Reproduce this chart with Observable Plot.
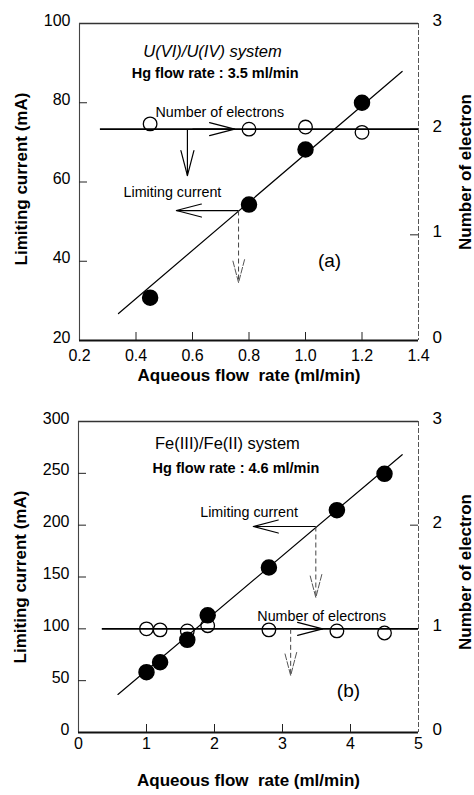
<!DOCTYPE html>
<html><head><meta charset="utf-8">
<script src="https://cdn.jsdelivr.net/npm/d3@7"></script>
<script src="https://cdn.jsdelivr.net/npm/@observablehq/plot@0.6"></script>
<style>
body{margin:0;background:#fff;}
#chart{width:474px;}
#chart svg{display:block;}
</style></head><body><div id="chart"></div>
<script>
// ---------- Panel (a): U(VI)/U(IV) system ----------
const flowA = [0.45, 0.8, 1.0, 1.2];
const currentA = [30.8, 54.3, 68.2, 80.0];
const electronsA = [2.05, 2.0, 2.02, 1.97];
const fitFlowA = [0.338, 1.342];
const fitCurrentA = [26.8, 87.9];
const electronLineA = {n: 2, from: 0.274, to: 1.4};
const xTicksA = [0.2, 0.4, 0.6, 0.8, 1.0, 1.2, 1.4];
const yTicksA = [20, 40, 60, 80, 100];
const titleA = "U(VI)/U(IV) system";
const hgA = "Hg flow rate : 3.5 ml/min";
const tagA = "(a)";

// ---------- Panel (b): Fe(III)/Fe(II) system ----------
const flowB = [1.0, 1.2, 1.6, 1.9, 2.8, 3.8, 4.5];
const currentB = [58.2, 67.8, 89.4, 113.0, 159.2, 214.5, 249.5];
const electronsB = [1.0, 0.99, 0.98, 1.03, 0.99, 0.98, 0.96];
const fitFlowB = [0.58, 4.76];
const fitCurrentB = [36.7, 268];
const electronLineB = {n: 1, from: 0.35, to: 5};
const xTicksB = [0, 1, 2, 3, 4, 5];
const yTicksB = [0, 50, 100, 150, 200, 250, 300];
const titleB = "Fe(III)/Fe(II) system";
const hgB = "Hg flow rate : 4.6 ml/min";
const tagB = "(b)";

// shared
const electronTicks = [0, 1, 2, 3];
const yLabel = "Limiting current (mA)";
const y2Label = "Number of electron";
const xLabel = "Aqueous flow  rate (ml/min)";
const lblElectrons = "Number of electrons";
const lblCurrent = "Limiting current";

// annotation anchors (data coordinates)
const notesA = {title: [0.671, 92.9], hg: [0.385, 87.4], electrons: [0.469, 77.5], current: [0.356, 57.3], tag: [1.085, 40.2]};
const notesB = {title: [2.19, 278.8], hg: [1.09, 254.7], electrons: [2.63, 111.9], current: [1.79, 212.2], tag: [3.97, 40.5]};
const arrowsA = [
  {x1: 0.60, x2: 0.749, y1: 2, y2: 2, axis: "n", dashed: false},
  {x1: 0.582, x2: 0.582, y1: 2, y2: 1.56, axis: "n", dashed: false},
  {x1: 0.763, x2: 0.543, y1: 52.8, y2: 52.8, axis: "i", dashed: false},
  {x1: 0.763, x2: 0.763, y1: 52.8, y2: 34.6, axis: "i", dashed: true}
];
const arrowsB = [
  {x1: 3.3, x2: 3.59, y1: 1, y2: 1, axis: "n", dashed: false},
  {x1: 3.49, x2: 2.57, y1: 198.7, y2: 198.7, axis: "i", dashed: false},
  {x1: 3.49, x2: 3.49, y1: 198.7, y2: 130.2, axis: "i", dashed: true},
  {x1: 3.12, x2: 3.12, y1: 1, y2: 0.55, axis: "n", dashed: true}
];

const FONT = "'Liberation Sans', Arial, Helvetica, sans-serif";

function headShape(hw) {
  return {draw(ctx, l) { ctx.moveTo(-hw, 0); ctx.lineTo(0, -l); ctx.lineTo(hw, 0); }};
}

function panel(o) {
  const W = 474;
  const toY = n => o.y0 + n * o.k;
  const pts = o.flow.map((x, i) => ({x, i: o.current[i], n: o.electrons[i]}));
  const fit = o.fitFlow.map((x, i) => ({x, y: o.fitCurrent[i]}));
  const innerW = W - o.ml - o.mr, innerH = o.h - o.mt - o.mb;
  const arrows = o.arrows.map(a => {
    const f = a.axis === "n" ? toY : (v => v);
    const y1 = f(a.y1), y2 = f(a.y2);
    const rot = a.x2 > a.x1 ? 90 : a.x2 < a.x1 ? -90 : y2 < y1 ? 180 : 0;
    return {x1: a.x1, x2: a.x2, y1, y2, rot, dashed: a.dashed};
  });
  const solid = arrows.filter(a => !a.dashed), dashed = arrows.filter(a => a.dashed);
  const N = o.notes;
  return Plot.plot({
    width: W, height: o.h,
    marginLeft: o.ml, marginRight: o.mr, marginTop: o.mt, marginBottom: o.mb,
    style: {fontFamily: FONT, fontSize: "15px", background: "white", color: "black", overflow: "visible"},
    x: {domain: o.xDomain},
    y: {domain: o.yDomain},
    marks: [
      // frame
      Plot.ruleY([o.yDomain[1]], {stroke: "#333", strokeWidth: 1.3}),
      Plot.ruleX([o.xDomain[0]], {stroke: "#444", strokeWidth: 1.1}),
      Plot.ruleX([o.xDomain[1]], {stroke: "#555", strokeWidth: 1, strokeDasharray: "5,2"}),
      Plot.ruleY([o.yDomain[0]], {stroke: "#111", strokeWidth: 1.8}),
      // inward ticks
      Plot.tickX(o.xTicks.slice(1, -1), {x: d => d, insetTop: innerH - 8, stroke: "#222"}),
      Plot.tickY(o.yTicks.slice(1, -1), {y: d => d, insetRight: innerW - 8, stroke: "#222"}),
      Plot.tickY(electronTicks.slice(1, -1), {y: d => toY(d), insetLeft: innerW - 8, stroke: "#222"}),
      // axes labels
      Plot.axisX({ticks: o.xTicks, tickFormat: o.xFormat, tickSize: 0, tickPadding: o.xPad, label: null, fontSize: 16}),
      Plot.axisY({anchor: "left", ticks: o.yTicks, tickSize: 0, tickPadding: 9, dy: -3, label: null, fontSize: 16}),
      Plot.axisY({anchor: "right", ticks: electronTicks.map(toY), tickFormat: d => String(Math.round((d - o.y0) / o.k)), tickSize: 0, tickPadding: 14, dy: -3, label: null, fontSize: 17}),
      Plot.text([yLabel], {text: d => d, frameAnchor: "left", dx: -58, dy: o.ylDy, rotate: -90, fontWeight: "bold", fontSize: 17, textAnchor: "middle", lineAnchor: "middle"}),
      Plot.text([y2Label], {text: d => d, frameAnchor: "right", dx: 47, dy: o.y2Dy, rotate: -90, fontWeight: "bold", fontSize: 17, textAnchor: "middle", lineAnchor: "middle"}),
      Plot.text([xLabel], {text: d => d, frameAnchor: "bottom", dy: o.xlDy, fontWeight: "bold", fontSize: 17, textAnchor: "middle", lineAnchor: "middle"}),
      // data lines
      Plot.line(fit, {x: "x", y: "y", stroke: "black", strokeWidth: 1.2}),
      Plot.ruleY([o.eline], {y: d => toY(d.n), x1: "from", x2: "to", stroke: "black", strokeWidth: 1.8}),
      // arrows
      Plot.link(solid, {x1: "x1", y1: "y1", x2: "x2", y2: "y2", stroke: "black", strokeWidth: 1.2}),
      Plot.vector(solid, {x: "x2", y: "y2", rotate: "rot", length: 25, anchor: "end", shape: headShape(6.5), stroke: "black", strokeWidth: 1.2}),
      Plot.link(dashed, {x1: "x1", y1: "y1", x2: "x2", y2: "y2", stroke: "#444", strokeWidth: 1, strokeDasharray: "5,3"}),
      Plot.vector(dashed, {x: "x2", y: "y2", rotate: "rot", length: 23, anchor: "end", shape: headShape(6), stroke: "#555", strokeWidth: 1, strokeDasharray: "6,2"}),
      // points
      Plot.dot(pts, {x: "x", y: "i", r: 7.5, fill: "black", stroke: "black"}),
      Plot.dot(pts, {x: "x", y: d => toY(d.n), r: 6.8, fill: "none", stroke: "black", strokeWidth: 1.3}),
      // annotations
      Plot.text([o.title], {text: d => d, x: N.title[0], y: N.title[1], fontSize: 16.5, fontStyle: o.titleStyle, textAnchor: "middle"}),
      Plot.text([o.hg], {text: d => d, x: N.hg[0], y: N.hg[1], fontSize: 14.5, fontWeight: "bold", textAnchor: "start"}),
      Plot.text([lblElectrons], {text: d => d, x: N.electrons[0], y: N.electrons[1], fontSize: 14.3, textAnchor: "start"}),
      Plot.text([lblCurrent], {text: d => d, x: N.current[0], y: N.current[1], fontSize: 14.3, textAnchor: "start"}),
      Plot.text([o.tag], {text: d => d, x: N.tag[0], y: N.tag[1], fontSize: 19, textAnchor: "middle"})
    ]
  });
}

const chart = document.getElementById("chart");
chart.append(panel({
  h: 400, ml: 79, mr: 56, mt: 23, mb: 60,
  xDomain: [0.2, 1.4], yDomain: [20, 100], y0: 20, k: 80 / 3,
  flow: flowA, current: currentA, electrons: electronsA,
  fitFlow: fitFlowA, fitCurrent: fitCurrentA, eline: electronLineA,
  xTicks: xTicksA, yTicks: yTicksA, xFormat: d3.format(".1f"), xPad: 9.5,
  ylDy: -3, y2Dy: -10, xlDy: 35,
  arrows: arrowsA, notes: notesA, title: titleA, titleStyle: "italic", hg: hgA, tag: tagA
}));
chart.append(panel({
  h: 395, ml: 78, mr: 56, mt: 21, mb: 63,
  xDomain: [0, 5], yDomain: [0, 300], y0: 0, k: 100,
  flow: flowB, current: currentB, electrons: electronsB,
  fitFlow: fitFlowB, fitCurrent: fitCurrentB, eline: electronLineB,
  xTicks: xTicksB, yTicks: yTicksB, xFormat: d3.format("d"), xPad: 5,
  ylDy: 0, y2Dy: -5, xlDy: 48,
  arrows: arrowsB, notes: notesB, title: titleB, titleStyle: "normal", hg: hgB, tag: tagB
}));
</script></body></html>
